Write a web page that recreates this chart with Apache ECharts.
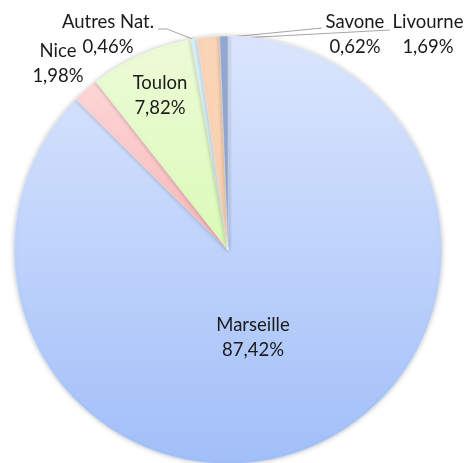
<!DOCTYPE html>
<html><head><meta charset="utf-8">
<script src="https://cdn.jsdelivr.net/npm/echarts@6/dist/echarts.min.js"></script>
<style>html,body{margin:0;padding:0;background:#fff}#c{width:465px;height:463px}</style>
</head><body><div id="c"></div>
<script>
const categories = ['Marseille', 'Nice', 'Toulon', 'Autres Nat.', 'Livourne', 'Savone'];
const values = [87.42, 1.98, 7.82, 0.46, 1.69, 0.62];
const labelTexts = ['87,42%', '1,98%', '7,82%', '0,46%', '1,69%', '0,62%'];

const colorsTop = ['#dbe6fd', '#fdd6d6', '#edfbd8', '#dbf3fb', '#fbd5b8', '#95aad2'];
const colorsBottom = ['#a2bff9', '#f8b6b6', '#dafbb6', '#d2effa', '#f9cfae', '#8ea4ce'];

// label placements (layout only)
const labelPos = [
  {x: 253, y: 338, line: null},
  {x: 58, y: 64, line: null},
  {x: 160, y: 96, line: null},
  {x: 108, y: 35, line: [[158, 29], [167, 29], [195, 40]]},
  {x: 428, y: 35, line: [[390, 30], [222, 39]]},
  {x: 355, y: 35, line: [[322, 28], [210, 39]]}
];

const chart = echarts.init(document.getElementById('c'));
chart.setOption({
  animation: false,
  series: [{
    type: 'pie',
    center: [228, 250],
    radius: 214,
    startAngle: 90,
    clockwise: true,
    avoidLabelOverlap: false,
    data: categories.map((c, i) => ({
      name: c,
      value: values[i],
      itemStyle: {
        color: new echarts.graphic.LinearGradient(0, 0, 0, 1, [
          {offset: 0, color: colorsTop[i]},
          {offset: 1, color: colorsBottom[i]}
        ])
      },
      labelLine: {show: !!labelPos[i].line}
    })),
    itemStyle: {
      borderColor: 'rgba(255,255,255,0.6)',
      borderWidth: 0.5,
      shadowBlur: 5,
      shadowColor: 'rgba(0,0,0,0.25)'
    },
    label: {
      show: true,
      position: 'outside',
      fontFamily: 'Lato',
      fontSize: 18.5,
      lineHeight: 25,
      color: '#1a1a1a',
      align: 'center',
      formatter: p => p.name + '\n' + labelTexts[p.dataIndex]
    },
    labelLine: {
      lineStyle: {color: '#a6a6a6', width: 1}
    },
    labelLayout: function (params) {
      const lp = labelPos[params.dataIndex];
      const r = {x: lp.x, y: lp.y, align: 'center', verticalAlign: 'middle'};
      if (lp.line) r.labelLinePoints = lp.line;
      return r;
    }
  }]
});
</script></body></html>
